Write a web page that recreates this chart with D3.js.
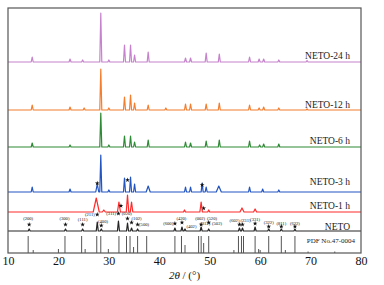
<!DOCTYPE html>
<html>
<head>
<meta charset="utf-8">
<script src="https://cdn.jsdelivr.net/npm/d3@7"></script>
<style>
body { margin: 0; background: #fff; }
svg text { font-family: "Liberation Serif", "Times New Roman", serif; }
</style>
</head>
<body>
<div class="xrd-wrapper"></div>
<script>
// series, top to bottom
const seriesNames = ['NETO-24 h', 'NETO-12 h', 'NETO-6 h', 'NETO-3 h', 'NETO-1 h', 'NETO']
const seriesOffsets = [191, 143, 106, 61, 41, 22]

// peaks: [2theta, intensity (a.u.), half width]
const peaks24h = [[14.8,5],[22.3,3],[24.8,2],[28.4,49],[30.0,2],[33.1,17],[34.3,17],[35.1,7],[37.8,10],[45.2,4],[46.2,4],[49.3,9],[51.9,8],[57.9,5],[59.8,3],[60.7,3],[63.7,2],[69.3,1.5]]
const peaks12h = [[14.8,5],[22.3,3],[25.1,2],[28.4,41],[30.0,2],[33.1,13],[34.3,15],[35.1,7],[37.8,5],[41.3,2],[45.2,6],[46.2,6],[49.3,6],[51.9,7],[57.9,5],[59.8,2],[60.7,3],[63.7,2],[69.3,1]]
const peaks6h = [[14.8,4],[22.3,2],[28.4,34],[30.0,2],[33.1,11],[34.3,11],[35.1,5],[37.8,7],[45.2,5],[46.2,4],[49.3,6],[51.9,7],[57.9,6],[59.9,2],[60.7,3],[63.7,3]]
const peaks3h = [[14.8,5],[22.3,3],[27.7,8,0.3],[28.4,37],[30.0,2],[33.1,14],[34.3,15],[35.1,8],[37.8,6,0.4],[45.2,5],[46.2,5],[48.5,9],[49.3,5],[51.8,6,0.5],[57.9,5],[60.5,3],[63.7,2]]
const peaks1h = [[27.5,14,0.6],[29.0,2,0.3],[32.0,10,0.3],[33.7,17,0.25],[34.5,10,0.25],[45.0,2],[48.3,10,0.25],[49.8,2],[56.4,4,0.4],[59.0,3,0.3]]
const peaksNeto = [[14.2,2],[21.4,2],[24.8,2],[27.7,9],[28.5,2],[31.9,10],[33.7,8],[34.5,3],[35.7,2],[43.1,3],[44.5,4],[45.1,2],[48.3,4],[49.8,2],[55.9,3],[56.5,3],[59.0,4],[61.7,2],[64.2,2],[66.9,2]]

// reference pattern PDF No.47-0004: [2theta, intensity]
const pdfSticks = [[14.0,17],[15.0,3],[20.0,4],[21.3,17],[24.6,17],[25.3,4],[27.6,17],[28.4,17],[29.9,4],[32.0,17],[33.5,17],[34.2,17],[34.9,6],[35.7,17],[37.5,17],[43.1,17],[44.4,17],[45.1,8],[47.8,17],[48.3,17],[48.8,10],[49.8,17],[54.8,3],[55.7,17],[56.3,17],[56.7,17],[59.0,17],[59.7,4],[60.0,3],[61.7,17],[64.2,17],[65.0,3],[66.9,17],[69.5,1.5],[74.8,1.5]]

// indexed reflections of NETO
const hklLabels = ['(200)','(300)','(111)','(211)','(400)','(311)','(020)','(102)','(500)','(600)','(420)','(402)','(002)','(312)','(520)','(502)','(602)','(231)','(331)','(322)','(811)','(622)']
const hklTheta = [14.2,21.4,24.8,27.7,28.5,31.9,33.7,34.5,35.7,43.1,44.5,45.1,48.3,49.0,49.8,50.3,55.9,56.5,59.0,61.7,64.2,66.9]
const hklStarred = [1,1,1,1,1,1,1,1,1,1,1,0,1,0,1,0,1,1,1,1,1,1]

// NETO phase marks in the mixed samples
const marks3h = [27.7, 33.7, 48.5]
const marks1h = [32.4, 48.8]

const xTicks = [10, 20, 30, 40, 50, 60, 70, 80]

const seriesPeaks = [peaks24h, peaks12h, peaks6h, peaks3h, peaks1h, peaksNeto]
const seriesColors = ['#c682cc', '#f47d2e', '#2f8a35', '#2254c2', '#ff2b2b', '#262626']

// label layout (px): [dx, dy, anchor, gap above curve]
const hklLayout = [[-1,-6,'middle',3],[-1,-6,'middle',3],[0,-5,'middle',3],[-2.5,0,'end',6],[1.7,-4.3,'middle',2],
  [-2.3,0,'end',6],[-0.7,-4.7,'middle',3],[5,-3.7,'middle',4],[1.5,-0.5,'start',3],[-1.7,0.3,'end',3],
  [-0.6,-4,'middle',3],[1.5,1,'start',2],[-1,-6.5,'middle',1],[0.6,-2,'middle',4],[3.3,-4.3,'middle',5],
  [5.8,-1,'middle',5],[-5,-4,'middle',2],[3,-4,'middle',2],[0,-4.5,'middle',2],[0,-4,'middle',1],[0,-3.5,'middle',1],[0,-3.5,'middle',1]]
const marks3hLift = [8.7, 12, 7]
const marks1hLift = [6.3, 3.7]

const width = 384
const height = 285

const x = d3.scaleLinear().domain([10, 80]).range([8, 361])
const y = d3.scaleLinear().domain([0, 245]).range([253, 8])

const svg = d3.select('.xrd-wrapper')
.append('svg')
.attr('width', width)
.attr('height', height)

const profile = (peaks, base) => {
	let pts = [[10, base]]
	peaks.forEach(([t, h, w = 0.2]) => {
		pts.push([t - w, base], [t, base + h], [t + w, base])
	})
	pts.push([80, base])
	return pts
}

const heightAt = (peaks, t) => {
	let p = peaks.find(d => Math.abs(d[0] - t) < 0.05)
	return p ? p[1] : 0
}

const line = d3.line()
.x(d => x(d[0]))
.y(d => y(d[1]))

const traces = svg.append('g')

seriesPeaks.forEach((peaks, i) => {
	traces.append('path')
	.datum(profile(peaks, seriesOffsets[i]))
	.attr('d', line)
	.attr('fill', 'none')
	.attr('stroke', seriesColors[i])
	.attr('stroke-width', 1.2)
	.attr('stroke-linejoin', 'round')
})

// PDF sticks
svg.append('g')
.selectAll('line')
.data(pdfSticks)
.join('line')
.attr('x1', d => x(d[0]))
.attr('x2', d => x(d[0]))
.attr('y1', y(0))
.attr('y2', d => y(d[1]))
.attr('stroke', '#555')
.attr('stroke-width', 1)

const star = d3.symbol().type(d3.symbolStar).size(7)

// hkl stars and labels on NETO
const hkl = svg.append('g')
hklLabels.forEach((lab, i) => {
	let t = hklTheta[i]
	let [dx, dy, anchor, gap] = hklLayout[i]
	let sx = x(t)
	let sy = y(seriesOffsets[5] + heightAt(peaksNeto, t)) - gap - 1.5
	if (hklStarred[i]) {
		hkl.append('path')
		.attr('d', star)
		.attr('transform', `translate(${sx},${sy})`)
		.attr('fill', '#111')
	}
	hkl.append('text')
	.attr('x', sx + dx)
	.attr('y', sy + dy)
	.attr('text-anchor', anchor)
	.attr('dominant-baseline', 'central')
	.attr('font-size', 4.6)
	.attr('fill', '#111')
	.text(lab)
})

const addMarks = (thetas, lifts, idx) => {
	thetas.forEach((t, i) => {
		hkl.append('path')
		.attr('d', star)
		.attr('transform', `translate(${x(t)},${y(seriesOffsets[idx] + lifts[i])})`)
		.attr('fill', '#111')
	})
}
addMarks(marks3h, marks3hLift, 3)
addMarks(marks1h, marks1hLift, 4)

// series labels
const labelY = [58.5, 107.5, 143.5, 185, 208.5, 230]
svg.append('g')
.selectAll('text')
.data(seriesNames)
.join('text')
.attr('x', 350)
.attr('y', (d, i) => labelY[i])
.attr('text-anchor', 'end')
.attr('font-size', 9.5)
.attr('fill', '#222')
.text(d => d)

svg.append('text')
.attr('x', 355)
.attr('y', 242.5)
.attr('text-anchor', 'end')
.attr('font-size', 7)
.attr('fill', '#222')
.text('PDF No.47-0004')

// frame
svg.append('rect')
.attr('x', 8)
.attr('y', 8)
.attr('width', 353)
.attr('height', 245)
.attr('fill', 'none')
.attr('stroke', '#555')
.attr('stroke-width', 1.2)

const xAxis = svg.append('g')
.attr('transform', `translate(0,${y(0)})`)
.call(d3.axisBottom(x).tickValues(xTicks).tickSize(0).tickPadding(3).tickFormat(d3.format('d')))

xAxis.select('.domain').remove()
xAxis.selectAll('text')
.attr('font-size', 12)
.attr('font-family', '"Liberation Serif", serif')
.attr('fill', '#111')

const title = svg.append('text')
.attr('x', 184.5)
.attr('y', 279)
.attr('text-anchor', 'middle')
.attr('font-size', 11)
.attr('fill', '#111')

title.append('tspan').attr('font-style', 'italic').text('2θ')
title.append('tspan').text(' / (°)')
</script>
</body>
</html>
